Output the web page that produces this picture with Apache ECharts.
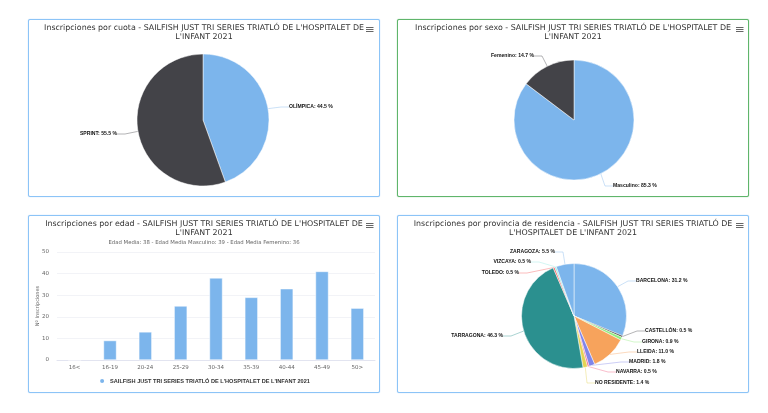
<!DOCTYPE html>
<html>
<head>
<meta charset="utf-8">
<script src="https://cdn.jsdelivr.net/npm/echarts@6/dist/echarts.min.js"></script>
<style>
html,body{margin:0;padding:0;background:#fff;width:768px;height:413px;overflow:hidden}
.panel{position:absolute;box-sizing:border-box;border:1px solid #8cc4f7;box-shadow:0 0 1px #8cc4f7;border-radius:2px;background:#fff}
#p1{left:28px;top:19px;width:352px;height:178px}
#p2{left:397px;top:19px;width:352px;height:178px;border-color:#5fb56b;box-shadow:0 0 1px #5fb56b}
#p3{left:28px;top:215px;width:352px;height:178px}
#p4{left:397px;top:215px;width:352px;height:178px}
</style>
</head>
<body>
<div class="panel" id="p1"></div>
<div class="panel" id="p2"></div>
<div class="panel" id="p3"></div>
<div class="panel" id="p4"></div>
<script>
var EVENT = "SAILFISH JUST TRI SERIES TRIATLÓ DE L'HOSPITALET DE L'INFANT 2021";

// cuota
var cuotaNames = ["OLÍMPICA", "SPRINT"];
var cuotaValues = [44.5, 55.5];
// sexo
var sexoNames = ["Masculino", "Femenino"];
var sexoValues = [85.3, 14.7];
// edad
var edadCats = ["16<", "16-19", "20-24", "25-29", "30-34", "35-39", "40-44", "45-49", "50>"];
var edadValues = [0, 9, 13, 25, 38, 29, 33, 41, 24];
var edadTicks = [0, 10, 20, 30, 40, 50];
// provincia
var provNames = ["BARCELONA", "CASTELLÓN", "GIRONA", "LLEIDA", "MADRID", "NAVARRA", "NO RESIDENTE", "TARRAGONA", "TOLEDO", "VIZCAYA", "ZARAGOZA"];
var provValues = [31.2, 0.5, 0.9, 11.0, 1.8, 0.5, 1.4, 46.3, 0.5, 0.5, 5.5];

var colors = ["#7cb5ec", "#434348", "#90ed7d", "#f7a35c", "#8085e9", "#f15c80", "#e4d354", "#2b908f", "#f45b5b", "#91e8e1"];
var FONT = "DejaVu Sans";
var BOLD = "Liberation Sans";

// titulo partido en dos lineas + icono de menu, igual en los cuatro paneles
function titleOpt(text) {
    return {
        text: text, left: "center", top: 3, padding: 0,
        textStyle: {fontFamily: FONT, fontSize: 7.9, fontWeight: "normal", color: "#333", lineHeight: 9.5}
    };
}
function menuIcon(x) {
    return [7, 9, 11].map(function (y) {
        return {type: "rect", shape: {x: x, y: y, width: 7.5, height: 1}, style: {fill: "#666"}};
    });
}

// spots: sitio de cada etiqueta dentro del panel
function pieChart(id, title, names, values, center, radius, spots, iconX) {
    var chart = echarts.init(document.getElementById(id), null, {renderer: "canvas"});
    chart.setOption({
        color: colors,
        animation: false,
        title: titleOpt(title),
        graphic: menuIcon(iconX),
        series: [{
            type: "pie",
            center: center,
            radius: radius,
            startAngle: 90,
            minAngle: 0,
            avoidLabelOverlap: false,
            data: names.map(function (n, i) { return {name: n, value: values[i]}; }),
            itemStyle: {borderColor: "#fff", borderWidth: 0.5},
            label: {formatter: function (p) { return p.name + ": " + p.value.toFixed(1) + " %"; }, fontFamily: BOLD, fontSize: 5.1, fontWeight: "bold", color: "#111"},
            labelLine: {show: true, length: 6, length2: 8, smooth: false, lineStyle: {width: 0.8, opacity: 0.5}},
            labelLayout: function (p) {
                var s = spots[p.dataIndex];
                return {x: s[0], y: s[1], align: s[2], verticalAlign: "middle"};
            }
        }]
    });
}

pieChart("p1", "Inscripciones por cuota - SAILFISH JUST TRI SERIES TRIATLÓ DE L'HOSPITALET DE\nL'INFANT 2021",
    cuotaNames, cuotaValues, [174, 100], 66,
    [[260, 87, "left"], [88, 114, "right"]], 337);

pieChart("p2", "Inscripciones por sexo - SAILFISH JUST TRI SERIES TRIATLÓ DE L'HOSPITALET DE\nL'INFANT 2021",
    sexoNames, sexoValues, [176, 100], 60,
    [[215, 166, "left"], [136, 36, "right"]], 338);

pieChart("p4", "Inscripciones por provincia de residencia - SAILFISH JUST TRI SERIES TRIATLÓ DE\nL'HOSPITALET DE L'INFANT 2021",
    provNames, provValues, [176, 100], 52.5,
    [[238, 65, "left"], [247, 115, "left"], [244, 126, "left"], [239, 136, "left"], [231, 146, "left"], [218, 156, "left"], [197, 167, "left"], [105, 120, "right"], [121, 57, "right"], [133, 46, "right"], [157, 36, "right"]], 338);

var barChart = echarts.init(document.getElementById("p3"), null, {renderer: "canvas"});
barChart.setOption({
    color: colors,
    animation: false,
    title: [titleOpt("Inscripciones por edad - SAILFISH JUST TRI SERIES TRIATLÓ DE L'HOSPITALET DE\nL'INFANT 2021"), {
        text: "Edad Media: 38 - Edad Media Masculino: 39 - Edad Media Femenino: 36",
        left: "center", top: 24, padding: 0,
        textStyle: {fontFamily: FONT, fontSize: 5.35, fontWeight: "normal", color: "#666"}
    }],
    graphic: menuIcon(337),
    grid: {left: 28, right: 4, top: 36, height: 108, outerBoundsMode: "none"},
    legend: {
        top: 161, left: "center", padding: 0, icon: "circle", itemWidth: 6, itemHeight: 6, itemGap: 3,
        textStyle: {fontFamily: BOLD, fontSize: 5.6, fontWeight: "bold", color: "#333"}
    },
    xAxis: {
        type: "category", data: edadCats,
        axisTick: {show: false},
        axisLine: {lineStyle: {color: "#e2e4f0", width: 1}},
        axisLabel: {fontFamily: FONT, fontSize: 5.5, color: "#666", margin: 5}
    },
    yAxis: {
        type: "value", min: edadTicks[0], max: edadTicks[5], interval: 10,
        name: "Nº Inscripciones", nameLocation: "middle", nameGap: 17, nameMoveOverlap: false,
        nameTextStyle: {fontFamily: FONT, fontSize: 5, color: "#666"},
        axisLabel: {fontFamily: FONT, fontSize: 5.5, color: "#666", margin: 8},
        splitLine: {lineStyle: {color: "#eceef4", width: 0.7}}
    },
    series: [{
        type: "bar", name: EVENT, data: edadValues, barWidth: 13,
        itemStyle: {borderColor: "#fff", borderWidth: 0.5}
    }]
});
</script>
</body>
</html>
